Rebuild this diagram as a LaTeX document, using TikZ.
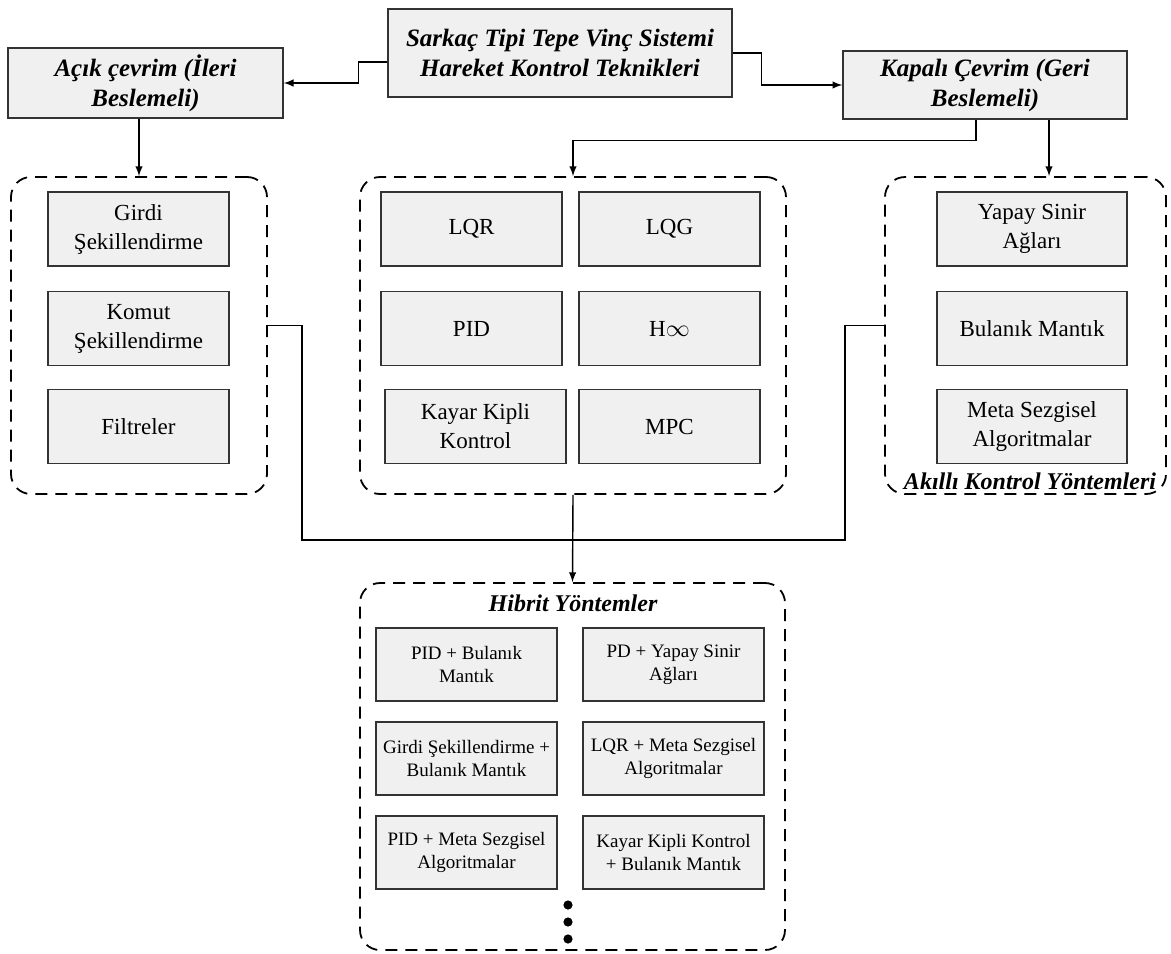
\documentclass[tikz,border=0pt]{standalone}
\usepackage{fontspec}
\setmainfont{Liberation Serif}

\begin{document}
\begin{tikzpicture}[> = latex, x = 0.5pt, y = -0.5pt,
	head/.style = {draw = black!80, fill = black!6, line width = 0.7pt, align = center, inner sep = 0pt,
		font = \fontsize{12.5}{15}\selectfont\bfseries\itshape},
	method/.style = {draw = black!80, fill = black!6, line width = 0.7pt, align = center, inner sep = 0pt,
		minimum width = 90.5pt, minimum height = 37pt, font = \fontsize{11.5}{14.5}\selectfont},
	combo/.style = {method, minimum height = 36.5pt, font = \fontsize{9.5}{11.5}\selectfont},
	group/.style = {draw, dash pattern = on 6pt off 4pt, line width = 0.9pt, rounded corners = 10pt, inner sep = 0pt},
	caption/.style = {inner sep = 0pt, font = \fontsize{12}{14}\selectfont\bfseries\itshape}]

	\useasboundingbox (0, 0) rectangle (1171, 953);

	% Top level
	
	\node [head, minimum width = 172pt, minimum height = 44pt] (top) at (560, 53) {Sarkaç Tipi Tepe Vinç Sistemi\\Hareket Kontrol Teknikleri};
	\node [head, minimum width = 137.5pt, minimum height = 35pt] (acik) at (145.5, 83) {Açık çevrim (İleri\\Beslemeli)};
	\node [head, minimum width = 142pt, minimum height = 34pt] (kapali) at (985, 85) {Kapalı Çevrim (Geri\\Beslemeli)};
	
	\draw [->, line width = 0.7pt] ([yshift = -4.5pt] top.west) -- ++(-14.5pt, 0) |- (acik.east);
	\draw [->, line width = 0.7pt] (top.east) -- ++(14.5pt, 0) |- (kapali.west);
	
	% Groups
	
	\node [group, minimum width = 128pt, minimum height = 158.5pt] (grpAcik) at (139, 335.5) {};
	\node [group, minimum width = 213pt, minimum height = 158.5pt] (grpKlasik) at (573, 335.5) {};
	\node [group, minimum width = 140.5pt, minimum height = 158.5pt] (grpAkilli) at (1025.5, 335.5) {};
	\node [group, minimum width = 212.5pt, minimum height = 183.5pt] (grpHibrit) at (572.5, 766.5) {};
	
	\node [caption] (akilli) at (1030, 481) {Akıllı Kontrol Yöntemleri};
	\node [caption] (hibrit) at (573, 603) {Hibrit Yöntemler};
	
	% Open loop methods
	
	\node [method] (girdi) at (138.5, 229) {Girdi\\Şekillendirme};
	\node [method] (komut) at (138.5, 328.5) {Komut\\Şekillendirme};
	\node [method] (filtre) at (138.5, 426.5) {Filtreler};
	
	% Classical closed loop methods
	
	\node [method] (lqr) at (471.5, 229) {LQR};
	\node [method] (lqg) at (669.5, 229) {LQG};
	\node [method] (pid) at (471.5, 328.5) {PID};
	\node [method] (hinf) at (669.5, 328.5) {H$\infty$};
	\node [method] (kayar) at (475.5, 426.5) {Kayar Kipli\\Kontrol};
	\node [method] (mpc) at (669.5, 426.5) {MPC};
	
	% Intelligent methods
	
	\node [method, minimum width = 95pt] (ysa) at (1032, 229) {Yapay Sinir\\Ağları};
	\node [method, minimum width = 95pt] (bulanik) at (1032, 328.5) {Bulanık Mantık};
	\node [method, minimum width = 95pt] (meta) at (1032, 426.5) {Meta Sezgisel\\Algoritmalar};
	
	% Hybrid methods
	
	\node [combo] (pidBul) at (466.5, 664.5) {PID + Bulanık\\Mantık};
	\node [combo] (pdYsa) at (673.5, 664.5) {PD + Yapay Sinir\\Ağları};
	\node [combo] (girdiBul) at (466.5, 758.5) {Girdi Şekillendirme +\\Bulanık Mantık};
	\node [combo] (lqrMeta) at (673.5, 758.5) {LQR + Meta Sezgisel\\Algoritmalar};
	\node [combo] (pidMeta) at (466.5, 852.5) {PID + Meta Sezgisel\\Algoritmalar};
	\node [combo] (kayarBul) at (673.5, 852.5) {Kayar Kipli Kontrol\\+ Bulanık Mantık};
	
	\foreach \y in {905, 922, 939}
		\fill (568, \y) circle (2.3pt);
	
	% Connectors
	
	\draw [->, line width = 0.7pt] (acik.south -| grpAcik.north) -- (grpAcik.north);
	\draw [->, line width = 0.7pt] ([xshift = -4.5pt] kapali.south) -- ++(0, -10.5pt) -| (grpKlasik.north);
	\draw [->, line width = 0.7pt] ([xshift = 32pt] kapali.south) -- ([xshift = 32pt] kapali.south |- grpAkilli.north);
	
	\coordinate (busL) at (302, 540);
	\coordinate (busR) at (845, 540);
	\draw [line width = 0.7pt] ([yshift = 5pt] grpAcik.east) -| (busL) -- (busR) |- ([yshift = 5pt] grpAkilli.west);
	\draw [->, line width = 0.7pt] (grpKlasik.south) -- (grpHibrit.north);
	
\end{tikzpicture}
\end{document}
